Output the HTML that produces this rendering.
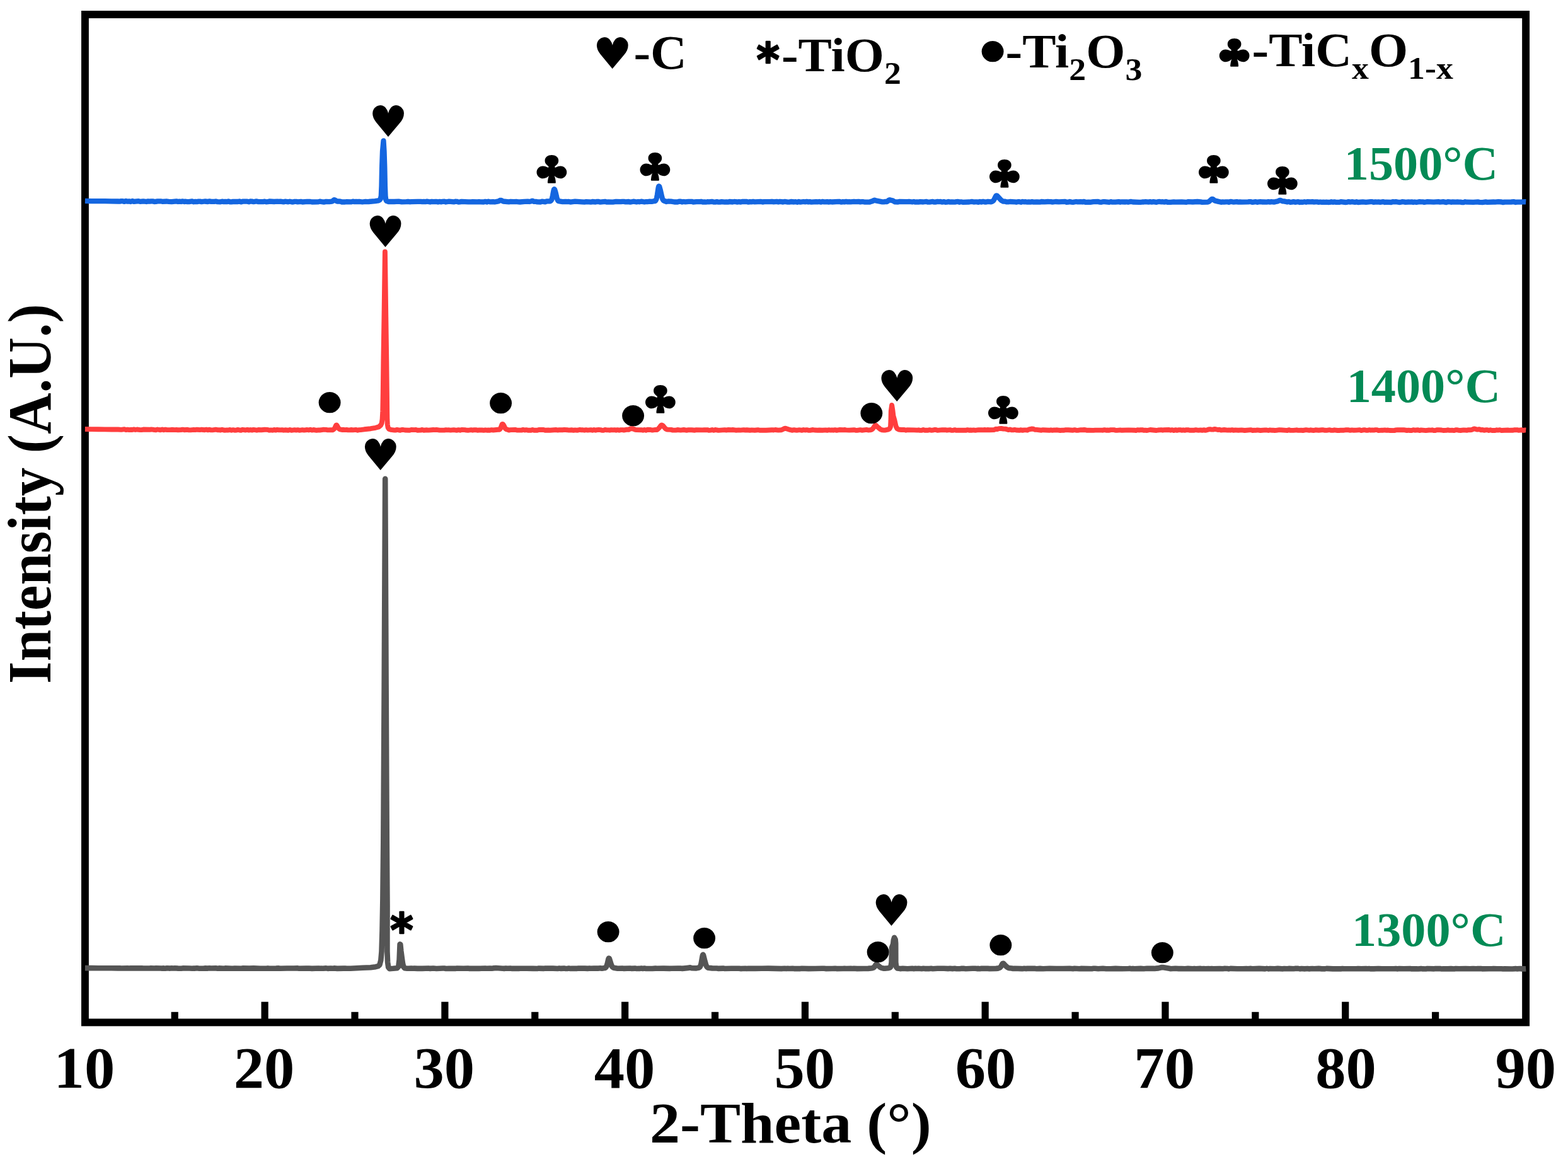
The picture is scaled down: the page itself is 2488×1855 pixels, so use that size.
<!DOCTYPE html>
<html lang="en">
<head>
<meta charset="utf-8">
<title>XRD patterns</title>
<style>
html,body{margin:0;padding:0;background:#fff;}
body{width:2488px;height:1855px;overflow:hidden;}
svg{display:block;}
.t{font-family:"Liberation Serif","DejaVu Serif",serif;font-weight:bold;fill:#000;}
.s{font-family:"DejaVu Sans","DejaVu Serif",sans-serif;font-weight:normal;fill:#000;}
.k{font-family:"NanumGothic","DejaVu Sans",sans-serif;font-weight:normal;fill:#000;}
.g{fill:#038a55;}
.b{font-weight:bold;}
</style>
</head>
<body>
<svg width="2488" height="1855" viewBox="0 0 2488 1855">
<rect x="0" y="0" width="2488" height="1855" fill="#ffffff"/>
<g id="axes" stroke="#000" fill="none">
<rect x="134.95" y="23.00" width="2286.15" height="1599.40" stroke-width="11.90"/>
<line x1="277.23" y1="1605.80" x2="277.23" y2="1622.40" stroke-width="11.2"/>
<line x1="420.12" y1="1589.70" x2="420.12" y2="1622.40" stroke-width="11.2"/>
<line x1="563.00" y1="1605.80" x2="563.00" y2="1622.40" stroke-width="11.2"/>
<line x1="705.89" y1="1589.70" x2="705.89" y2="1622.40" stroke-width="11.2"/>
<line x1="848.77" y1="1605.80" x2="848.77" y2="1622.40" stroke-width="11.2"/>
<line x1="991.66" y1="1589.70" x2="991.66" y2="1622.40" stroke-width="11.2"/>
<line x1="1134.54" y1="1605.80" x2="1134.54" y2="1622.40" stroke-width="11.2"/>
<line x1="1277.43" y1="1589.70" x2="1277.43" y2="1622.40" stroke-width="11.2"/>
<line x1="1420.31" y1="1605.80" x2="1420.31" y2="1622.40" stroke-width="11.2"/>
<line x1="1563.19" y1="1589.70" x2="1563.19" y2="1622.40" stroke-width="11.2"/>
<line x1="1706.08" y1="1605.80" x2="1706.08" y2="1622.40" stroke-width="11.2"/>
<line x1="1848.96" y1="1589.70" x2="1848.96" y2="1622.40" stroke-width="11.2"/>
<line x1="1991.85" y1="1605.80" x2="1991.85" y2="1622.40" stroke-width="11.2"/>
<line x1="2134.73" y1="1589.70" x2="2134.73" y2="1622.40" stroke-width="11.2"/>
<line x1="2277.62" y1="1605.80" x2="2277.62" y2="1622.40" stroke-width="11.2"/>
</g>
<g id="curves">
<polyline points="134.9,1536.1 145.4,1536.1 155.9,1536.2 166.4,1536.2 176.9,1536.3 187.4,1536.4 189.9,1536.2 192.4,1536.5 202.4,1536.3 204.9,1536.5 207.4,1536.2 217.4,1536.4 224.9,1536.3 227.4,1536.5 237.9,1536.4 239.9,1536.3 244.9,1536.5 247.4,1536.3 257.4,1536.6 259.9,1536.4 262.4,1536.7 264.9,1536.3 269.9,1536.6 272.4,1536.3 274.9,1536.5 277.4,1536.3 282.4,1536.6 287.4,1536.7 289.9,1536.4 300.4,1536.5 304.9,1536.7 307.4,1536.5 309.9,1536.6 312.4,1536.3 314.9,1536.6 322.4,1536.7 324.9,1536.4 329.9,1536.6 332.4,1536.3 334.9,1536.5 342.4,1536.3 344.9,1536.7 347.4,1536.4 354.9,1536.8 357.4,1536.4 367.9,1536.7 369.9,1536.8 372.4,1536.5 382.4,1536.8 384.9,1536.4 395.4,1536.6 402.4,1536.4 412.9,1536.8 422.4,1536.7 424.9,1536.4 427.4,1536.8 437.9,1536.6 442.4,1536.4 444.9,1536.7 455.4,1536.5 465.9,1536.5 472.4,1536.4 474.9,1536.8 485.4,1536.6 489.9,1536.5 494.9,1536.9 505.4,1536.5 512.5,1536.8 517.5,1536.4 520.0,1536.9 525.0,1536.5 527.5,1536.7 530.0,1536.4 535.0,1536.9 545.5,1536.6 547.5,1536.5 550.0,1536.8 556.0,1536.8 566.0,1536.3 575.0,1535.8 588.0,1535.2 596.0,1534.2 600.0,1533.2 602.5,1530.8 604.3,1523.8 605.5,1509.8 606.5,1476.8 607.4,1426.8 608.3,1336.8 609.7,1086.8 611.2,759.8 612.6,1086.8 613.8,1336.8 614.5,1436.8 614.4,1486.8 614.4,1509.8 615.1,1526.8 616.2,1534.8 618.0,1537.1 624.0,1536.8 630.0,1536.3 632.3,1533.8 633.6,1522.8 634.6,1498.3 635.3,1498.8 636.3,1508.8 637.6,1518.8 639.0,1528.8 640.3,1534.3 642.0,1536.3 646.0,1536.8 648.0,1536.8 652.5,1536.5 655.0,1536.8 657.5,1536.6 662.5,1536.9 667.5,1536.7 670.0,1536.9 680.0,1536.5 682.5,1536.9 687.5,1536.5 692.5,1537.0 703.0,1536.5 705.0,1536.5 707.5,1537.0 712.5,1536.7 715.0,1536.9 717.5,1536.7 722.5,1536.9 725.0,1536.6 735.5,1536.7 742.5,1536.5 745.0,1536.9 747.5,1536.7 755.0,1536.9 757.5,1536.7 760.0,1536.9 770.0,1536.5 772.5,1536.7 777.5,1536.5 780.0,1536.8 782.5,1536.4 787.0,1536.0 797.5,1536.7 800.0,1536.9 802.5,1536.5 805.0,1536.8 810.0,1536.6 812.5,1536.9 823.0,1536.9 825.0,1536.7 835.5,1536.8 846.0,1536.9 852.5,1537.0 855.0,1536.6 862.5,1536.9 865.0,1536.6 875.5,1536.6 877.5,1536.6 885.0,1537.0 887.5,1536.6 890.0,1536.9 895.0,1536.6 897.5,1537.0 900.0,1537.0 902.5,1536.6 905.0,1537.0 907.5,1536.7 915.0,1536.9 917.5,1536.6 928.0,1536.6 932.5,1536.9 935.0,1536.5 937.5,1536.8 942.5,1536.5 950.0,1536.6 952.5,1536.3 955.0,1536.7 959.5,1536.1 960.0,1536.0 961.0,1535.3 961.5,1534.7 962.0,1534.0 963.0,1531.7 964.0,1528.1 965.0,1523.6 965.5,1521.7 966.0,1520.6 966.5,1520.7 967.0,1521.6 970.0,1531.2 971.0,1533.3 971.5,1534.0 972.0,1534.6 973.0,1535.3 974.0,1535.7 980.0,1536.7 987.5,1536.5 990.0,1536.9 1000.0,1536.5 1002.5,1536.9 1007.5,1536.6 1010.0,1537.0 1015.0,1536.9 1017.5,1536.6 1020.0,1537.0 1022.5,1536.6 1025.0,1537.0 1035.0,1537.0 1040.0,1536.6 1042.5,1536.8 1053.0,1536.6 1062.5,1536.9 1065.0,1536.7 1075.5,1536.6 1080.0,1536.5 1082.5,1536.9 1092.5,1535.9 1094.0,1535.5 1095.0,1535.4 1097.5,1536.2 1105.0,1536.4 1109.0,1535.5 1110.0,1534.9 1110.5,1534.4 1111.0,1533.7 1111.5,1532.7 1112.0,1531.2 1112.5,1529.3 1113.5,1523.9 1114.5,1517.9 1115.0,1515.7 1115.5,1514.9 1116.0,1515.6 1116.5,1517.4 1118.5,1525.6 1120.0,1530.6 1121.0,1533.0 1121.5,1533.9 1122.0,1534.5 1123.0,1535.4 1124.0,1535.8 1130.0,1536.4 1137.5,1536.5 1140.0,1536.9 1147.5,1536.6 1150.0,1537.0 1160.5,1536.7 1171.0,1536.8 1172.5,1536.7 1175.0,1537.1 1182.5,1536.7 1185.0,1537.1 1187.5,1536.8 1198.0,1536.9 1208.5,1536.7 1219.0,1536.6 1229.5,1536.9 1240.0,1537.1 1245.0,1536.8 1247.5,1537.1 1250.0,1536.7 1252.5,1537.0 1257.5,1536.7 1260.0,1537.1 1270.0,1537.1 1272.5,1536.7 1283.0,1537.1 1293.5,1537.0 1304.0,1536.8 1307.5,1536.7 1310.0,1537.1 1320.5,1537.0 1325.0,1536.7 1327.5,1537.1 1337.5,1537.0 1340.0,1536.7 1342.5,1537.0 1350.0,1536.8 1352.5,1537.0 1355.0,1536.8 1360.0,1537.1 1370.5,1537.0 1377.5,1536.9 1384.0,1536.2 1385.5,1535.7 1386.5,1535.1 1387.5,1534.1 1389.5,1531.1 1390.0,1530.6 1390.5,1530.3 1391.0,1530.3 1391.5,1530.5 1396.5,1534.7 1398.5,1535.9 1402.5,1536.8 1404.0,1536.8 1409.0,1536.3 1412.0,1535.4 1413.5,1533.9 1414.6,1526.9 1414.9,1504.0 1417.2,1498.0 1417.8,1492.0 1419.1,1487.8 1420.7,1491.0 1421.2,1497.0 1421.3,1527.0 1422.2,1534.6 1424.0,1536.6 1428.0,1537.1 1430.0,1537.1 1432.5,1536.7 1440.0,1537.2 1447.5,1536.8 1450.0,1537.2 1452.5,1536.8 1455.0,1537.0 1457.5,1536.8 1462.5,1537.2 1465.0,1536.8 1467.5,1537.1 1470.0,1537.0 1475.0,1537.1 1477.5,1536.8 1480.0,1537.2 1487.5,1536.7 1498.0,1536.8 1505.0,1537.1 1507.5,1536.7 1510.0,1537.1 1512.5,1537.1 1515.0,1536.8 1517.5,1537.2 1522.5,1537.2 1525.0,1536.9 1530.0,1536.9 1532.5,1537.2 1543.0,1536.8 1547.5,1536.8 1550.0,1537.1 1552.5,1536.9 1555.0,1537.2 1557.5,1536.8 1567.5,1536.9 1570.0,1537.1 1580.5,1536.9 1583.5,1536.6 1585.5,1536.0 1586.5,1535.5 1587.5,1534.6 1588.5,1533.2 1590.0,1530.4 1590.5,1529.6 1591.0,1529.0 1591.5,1528.7 1592.0,1528.8 1592.5,1529.1 1596.0,1532.9 1598.5,1535.0 1600.0,1535.8 1602.0,1536.3 1605.0,1536.5 1607.5,1537.0 1610.0,1536.7 1620.5,1537.1 1622.5,1537.2 1625.0,1536.8 1627.5,1537.1 1630.0,1536.9 1640.5,1536.8 1642.5,1536.9 1645.0,1537.2 1650.0,1536.9 1655.0,1537.3 1665.5,1536.8 1676.0,1537.0 1686.5,1537.0 1697.0,1536.8 1702.5,1537.3 1705.0,1536.8 1712.5,1537.2 1715.0,1536.9 1725.5,1537.1 1732.5,1537.2 1735.0,1536.8 1737.5,1536.8 1742.5,1537.2 1750.0,1536.8 1755.0,1537.3 1762.5,1537.3 1770.0,1536.9 1780.5,1537.2 1791.0,1537.0 1792.5,1536.8 1795.0,1537.2 1797.5,1536.9 1800.0,1537.3 1810.0,1536.9 1815.0,1537.2 1820.0,1536.8 1830.5,1536.9 1832.5,1537.0 1835.0,1536.6 1838.0,1536.4 1843.5,1535.0 1845.0,1535.0 1855.5,1536.8 1857.5,1537.2 1865.0,1536.8 1870.0,1537.1 1875.0,1537.0 1880.0,1537.3 1885.0,1536.9 1892.5,1537.2 1895.0,1536.9 1897.5,1537.2 1905.0,1536.9 1907.5,1537.3 1910.0,1537.0 1912.5,1537.3 1917.5,1537.0 1920.0,1537.2 1922.5,1537.0 1925.0,1537.3 1935.5,1537.1 1940.0,1537.3 1942.5,1536.9 1947.5,1537.0 1950.0,1537.4 1952.5,1536.9 1963.0,1537.3 1972.5,1537.3 1977.5,1537.0 1980.0,1537.3 1985.0,1536.9 1987.5,1537.2 1998.0,1536.9 2007.5,1537.4 2010.0,1536.9 2012.5,1537.4 2015.0,1537.0 2022.5,1537.3 2027.5,1536.9 2035.0,1537.4 2037.5,1537.0 2042.5,1537.3 2045.0,1536.9 2052.4,1537.3 2054.9,1536.9 2059.9,1536.9 2062.4,1537.4 2064.9,1537.0 2069.9,1537.4 2074.9,1537.0 2077.4,1537.4 2082.4,1537.0 2084.9,1537.3 2092.4,1536.9 2097.4,1537.4 2102.4,1537.4 2104.9,1536.9 2114.9,1537.4 2124.9,1537.2 2127.4,1537.4 2129.9,1537.0 2132.4,1537.3 2142.9,1537.2 2152.4,1537.3 2154.9,1537.0 2159.9,1537.3 2167.4,1537.0 2169.9,1537.2 2172.4,1537.1 2174.9,1537.4 2179.9,1537.4 2187.4,1537.0 2192.4,1537.3 2202.9,1537.3 2212.4,1537.3 2214.9,1537.0 2217.4,1537.4 2219.9,1537.1 2227.4,1537.3 2237.4,1537.0 2239.9,1537.4 2247.4,1537.2 2249.9,1537.5 2254.9,1537.1 2257.4,1537.4 2262.4,1537.5 2264.9,1537.0 2274.9,1537.4 2277.4,1537.0 2284.9,1537.1 2287.4,1537.5 2289.9,1537.3 2292.4,1537.4 2294.9,1537.2 2297.4,1537.4 2302.4,1537.1 2307.4,1537.5 2309.9,1537.0 2314.9,1537.3 2325.4,1537.1 2332.4,1537.3 2337.4,1537.0 2342.4,1537.3 2344.9,1537.1 2349.9,1537.1 2352.4,1537.4 2362.9,1537.2 2367.4,1537.3 2369.9,1537.0 2374.9,1537.3 2382.4,1537.2 2384.9,1537.5 2387.4,1537.2 2397.9,1537.5 2399.9,1537.5 2404.9,1537.1 2407.4,1537.4 2412.4,1537.0 2414.9,1537.5 2417.4,1537.2 2419.9,1537.4 2421.2,1537.3" fill="none" stroke="#555555" stroke-width="8.60" stroke-linejoin="round" stroke-linecap="butt"/>
<polyline points="134.9,681.0 145.4,681.1 155.9,681.2 166.4,681.4 176.9,681.5 187.4,681.5 192.4,681.9 197.4,681.2 199.9,682.1 202.4,681.6 204.9,682.1 207.4,681.8 209.9,682.0 212.4,681.4 214.9,682.0 217.4,681.5 222.4,682.1 224.9,682.1 227.4,681.5 237.4,681.8 239.9,681.5 242.4,681.6 244.9,682.1 247.4,682.3 249.9,681.5 252.4,682.0 254.9,682.2 257.4,681.5 259.9,682.3 262.4,681.6 264.9,682.1 269.9,682.1 272.4,681.8 277.4,682.1 279.9,682.0 282.4,682.2 287.4,682.0 289.9,681.6 292.4,682.2 297.4,681.8 299.9,682.4 302.4,682.4 307.4,681.8 309.9,682.1 312.4,681.7 317.4,682.1 319.9,681.7 324.9,682.2 327.4,681.7 329.9,682.3 332.4,681.7 334.9,682.4 337.4,682.4 342.4,681.7 344.9,682.2 347.4,682.1 349.9,682.6 352.4,681.8 354.9,682.5 357.4,682.7 359.9,682.4 362.4,682.5 364.9,681.9 367.4,682.7 369.9,682.2 372.4,682.7 374.9,682.6 377.4,681.9 379.9,682.5 382.4,682.7 384.9,681.8 389.9,682.5 392.4,681.9 394.9,682.6 397.4,682.0 399.9,682.6 402.4,681.9 407.4,682.7 409.9,682.0 414.9,682.3 419.9,681.8 424.9,681.9 427.4,682.7 429.9,682.4 432.4,682.7 434.9,681.9 437.4,682.6 439.9,681.9 442.4,682.3 444.9,682.4 447.4,682.1 449.9,682.7 452.4,682.3 457.4,682.7 459.9,681.9 462.4,682.8 467.4,682.2 469.9,682.6 472.4,682.1 474.9,682.8 479.9,682.2 482.4,682.6 487.4,682.0 489.9,682.5 492.4,681.8 494.9,682.6 497.4,682.0 502.4,682.8 504.9,682.4 507.4,682.5 512.5,681.8 517.5,681.9 520.0,682.4 525.0,682.2 527.5,682.4 529.0,681.7 530.5,680.3 531.0,679.6 532.0,677.6 533.0,675.3 533.5,674.6 534.0,674.5 534.5,674.9 535.5,676.6 537.0,679.3 538.0,680.5 538.5,680.9 539.5,681.3 542.5,682.0 545.0,681.8 547.5,682.1 550.0,682.0 552.5,682.4 555.0,682.4 557.5,682.0 560.0,682.4 565.0,681.9 567.5,682.8 570.0,682.1 572.0,682.1 578.0,681.3 588.0,680.2 596.0,678.8 601.0,677.4 604.0,674.9 605.7,671.4 606.6,665.4 607.3,652.4 607.8,622.4 608.4,572.4 609.5,502.4 610.9,399.5 612.3,502.5 613.3,572.5 613.9,622.5 614.2,652.5 614.4,665.5 614.8,673.5 615.6,678.5 617.0,680.7 620.0,681.8 626.0,682.6 627.5,682.6 630.0,681.9 635.0,682.8 637.5,682.0 640.0,682.0 642.5,682.5 650.0,682.7 652.5,682.0 657.5,682.1 660.0,681.9 662.5,682.7 667.5,682.6 670.0,681.9 672.5,682.7 677.5,682.3 680.0,682.6 687.5,682.0 690.0,682.1 692.5,681.9 697.5,682.6 705.0,682.6 707.5,682.1 710.0,682.4 712.5,682.3 715.0,682.6 720.0,682.1 725.0,682.8 727.5,682.1 730.0,682.7 732.5,681.9 737.5,682.1 740.0,682.6 742.5,682.8 747.5,682.2 750.0,682.7 752.5,682.2 755.0,682.1 757.5,682.8 760.0,682.5 765.0,682.5 767.5,682.8 770.0,682.3 772.5,682.7 775.0,682.5 777.5,682.7 780.0,682.2 782.5,682.5 790.0,681.8 792.0,681.8 792.5,681.7 793.0,681.3 793.5,680.8 794.0,680.0 794.5,678.9 796.5,673.6 797.0,672.9 797.5,672.9 798.0,673.1 798.5,673.7 799.5,675.3 801.0,678.5 801.5,679.4 802.0,680.1 803.0,680.9 804.0,681.4 805.0,681.6 807.5,682.6 810.0,682.1 817.5,681.9 820.0,682.5 827.5,682.6 830.0,681.9 832.5,682.5 835.0,682.2 837.5,682.7 842.5,682.8 845.0,681.9 847.5,682.7 852.5,682.8 855.0,682.0 862.5,681.9 865.0,682.7 870.0,682.5 872.5,682.7 882.5,682.0 885.0,682.6 887.5,682.1 892.5,682.3 895.0,681.9 900.0,682.2 902.5,682.6 907.5,682.2 910.0,682.9 912.5,682.4 915.0,682.7 917.5,682.5 920.0,681.9 922.5,682.3 925.0,682.3 927.5,682.7 930.0,682.2 932.5,682.6 937.5,682.1 940.0,682.8 942.5,682.0 945.0,682.7 947.5,682.1 950.0,681.9 952.5,682.1 955.0,682.7 957.5,682.9 960.0,681.9 962.5,682.4 965.0,682.4 967.5,682.7 970.0,682.1 972.5,682.4 975.0,682.2 977.5,682.7 980.0,682.1 982.5,682.8 985.0,682.1 987.5,682.1 990.0,682.5 995.0,681.7 997.5,681.8 1000.0,680.3 1001.5,680.1 1004.0,680.3 1008.0,681.8 1010.0,682.1 1017.5,682.2 1020.0,682.7 1022.5,681.9 1025.0,682.7 1027.5,681.8 1032.5,682.0 1035.0,682.6 1040.0,681.9 1042.0,682.0 1042.5,682.0 1044.0,680.9 1046.0,678.8 1048.5,675.5 1049.0,675.0 1049.5,674.7 1050.0,674.5 1050.5,674.6 1051.0,674.8 1052.0,675.6 1055.5,679.8 1056.5,680.6 1057.5,681.2 1059.0,681.6 1065.0,681.9 1067.5,682.6 1072.5,682.6 1075.0,682.0 1080.0,682.6 1085.0,682.0 1090.0,682.8 1092.5,682.1 1097.5,682.2 1102.5,682.7 1105.0,682.1 1115.0,682.4 1117.5,682.1 1120.0,682.2 1122.5,682.1 1125.0,682.9 1127.5,682.6 1130.0,682.0 1132.5,682.9 1135.0,682.0 1137.5,682.3 1140.0,682.9 1150.0,682.1 1152.5,682.6 1155.0,682.0 1160.0,682.3 1162.5,682.0 1167.5,682.7 1172.5,682.4 1175.0,682.6 1180.0,682.1 1182.5,682.5 1185.0,682.3 1190.0,682.8 1192.5,682.4 1197.5,682.7 1202.5,682.2 1205.0,682.7 1215.5,682.7 1225.0,682.2 1227.5,682.5 1230.0,682.0 1235.0,682.6 1240.0,682.2 1242.0,681.3 1244.5,680.1 1245.5,679.8 1246.5,679.8 1249.5,680.8 1252.0,681.6 1257.5,682.8 1260.0,682.1 1262.5,682.6 1265.0,682.7 1267.5,682.3 1270.0,682.4 1272.5,682.9 1275.0,682.0 1277.5,682.5 1280.0,682.1 1282.5,682.7 1285.0,682.9 1290.0,682.0 1292.5,682.5 1297.5,682.7 1300.0,682.5 1305.0,682.8 1310.0,682.4 1312.5,682.9 1315.0,682.2 1317.5,682.6 1320.0,682.3 1322.5,682.7 1325.0,682.1 1327.5,682.9 1330.0,682.3 1332.5,682.0 1337.5,682.3 1340.0,682.0 1342.5,682.4 1347.5,682.6 1355.0,682.2 1357.5,682.7 1360.0,682.9 1365.0,682.1 1367.5,682.7 1375.0,681.9 1377.5,682.5 1380.5,682.4 1382.5,681.9 1383.5,681.4 1384.5,680.6 1386.0,678.8 1388.0,675.7 1388.5,675.2 1389.0,674.8 1389.5,674.8 1390.0,674.9 1392.5,677.6 1395.0,679.5 1396.5,680.9 1397.5,681.6 1399.5,682.3 1402.5,682.6 1404.0,682.6 1409.0,681.6 1411.5,680.4 1413.0,677.3 1413.5,667.3 1413.8,652.3 1415.1,643.0 1416.3,650.3 1417.5,660.2 1419.5,667.2 1421.5,676.2 1423.5,680.3 1426.0,681.5 1430.0,682.0 1435.0,682.0 1437.5,682.7 1440.0,682.2 1450.5,682.4 1455.0,682.6 1457.5,682.3 1460.0,682.9 1462.5,682.8 1465.0,682.0 1467.5,682.8 1472.5,682.8 1475.0,682.1 1477.5,682.8 1480.0,682.6 1482.5,682.0 1485.0,682.0 1487.5,682.9 1495.0,682.1 1500.0,682.2 1502.5,682.7 1507.5,682.1 1510.0,682.9 1512.5,682.8 1515.0,682.1 1517.5,682.9 1520.0,682.6 1530.5,682.8 1532.5,682.8 1535.0,682.2 1537.5,682.7 1540.0,682.5 1542.5,682.7 1545.0,682.4 1547.5,682.8 1552.5,682.2 1557.5,682.1 1560.0,682.4 1562.5,682.0 1565.0,682.3 1567.5,682.0 1570.0,682.3 1577.5,682.0 1580.0,680.7 1582.5,681.0 1585.0,680.1 1589.0,680.0 1592.5,680.6 1595.0,680.6 1597.5,681.2 1600.0,682.1 1602.5,681.5 1605.0,682.3 1607.5,682.4 1610.0,681.9 1612.5,682.5 1617.5,682.8 1620.0,682.2 1622.5,682.9 1625.0,682.4 1627.5,682.4 1630.0,682.7 1632.5,681.4 1635.0,681.0 1636.0,680.6 1637.0,680.5 1640.0,680.8 1642.5,681.8 1645.0,681.9 1652.5,682.7 1655.0,682.2 1665.0,682.8 1667.5,682.3 1670.0,682.8 1672.5,682.4 1675.0,682.5 1677.5,682.3 1682.5,683.0 1685.0,682.7 1687.5,682.8 1690.0,682.3 1695.0,682.3 1702.5,682.8 1705.0,682.1 1707.5,682.7 1710.0,682.9 1715.0,682.1 1717.5,682.3 1720.0,682.0 1722.5,682.2 1725.0,682.9 1727.5,682.6 1735.0,682.9 1737.5,682.6 1748.0,682.6 1750.0,682.7 1752.5,682.2 1755.0,682.7 1757.5,682.5 1760.0,682.8 1762.5,682.1 1767.5,682.1 1770.0,682.8 1772.5,682.9 1777.5,682.4 1780.0,682.8 1790.5,682.4 1801.0,682.8 1802.5,683.0 1805.0,682.1 1807.5,682.6 1810.0,682.1 1812.5,682.2 1815.0,682.8 1817.5,682.6 1820.0,683.0 1825.0,682.0 1835.0,683.0 1837.5,682.5 1842.5,682.1 1845.0,682.7 1847.5,682.2 1855.0,682.0 1857.5,682.7 1860.0,682.2 1862.5,683.0 1865.0,682.1 1867.5,682.9 1870.0,682.2 1872.5,682.1 1875.0,682.8 1877.5,682.3 1880.0,682.8 1882.5,682.2 1885.0,682.1 1887.5,682.8 1895.0,682.7 1897.5,682.1 1900.0,682.6 1902.5,682.7 1905.0,682.4 1907.5,682.9 1910.0,682.2 1912.5,682.8 1915.0,682.4 1917.5,681.5 1920.0,681.2 1922.5,681.6 1925.0,681.6 1927.5,680.9 1932.5,682.0 1935.0,681.7 1937.5,682.6 1942.5,682.0 1947.5,682.6 1950.0,682.4 1952.5,682.7 1955.0,682.2 1957.5,682.8 1960.0,682.4 1965.0,682.7 1970.0,682.4 1975.0,683.0 1985.0,682.1 1987.5,683.0 1990.0,682.8 1992.5,682.9 1995.0,682.4 2000.0,683.0 2007.5,682.4 2010.0,682.5 2012.5,683.0 2015.0,682.4 2017.5,682.7 2020.0,682.7 2022.5,683.0 2025.0,682.9 2030.0,682.1 2040.5,682.9 2042.5,683.0 2045.0,682.1 2047.5,682.9 2052.4,682.9 2057.4,682.3 2059.9,682.9 2064.9,682.8 2067.4,683.0 2072.4,682.2 2077.4,682.9 2079.9,682.3 2082.4,682.8 2084.9,683.0 2087.4,682.3 2092.4,682.8 2097.4,682.3 2099.9,682.3 2102.4,682.8 2104.9,682.9 2109.9,682.2 2112.4,682.9 2114.9,682.9 2117.4,682.3 2122.4,683.0 2124.9,683.0 2127.4,682.6 2132.4,682.7 2134.9,682.3 2139.9,682.3 2142.4,682.8 2144.9,682.4 2147.4,682.7 2152.4,682.6 2157.4,682.1 2159.9,683.1 2162.4,682.5 2164.9,682.2 2167.4,682.7 2169.9,682.9 2172.4,682.2 2174.9,682.7 2177.4,682.4 2179.9,682.6 2182.4,682.1 2184.9,682.1 2187.4,683.1 2192.4,682.6 2194.9,682.7 2197.4,682.4 2199.9,682.9 2202.4,682.5 2204.9,683.0 2212.4,683.1 2214.9,682.4 2217.4,682.1 2227.4,682.2 2232.4,683.0 2234.9,682.6 2237.4,683.0 2239.9,683.0 2242.4,682.2 2244.9,682.7 2249.9,682.2 2252.4,683.1 2254.9,682.4 2262.4,683.1 2267.4,682.5 2269.9,682.6 2272.4,682.3 2274.9,683.1 2277.4,683.1 2279.9,682.3 2282.4,682.1 2287.4,682.5 2289.9,683.0 2294.9,682.9 2297.4,682.2 2299.9,682.9 2304.9,682.8 2307.4,683.1 2309.9,682.2 2312.4,682.2 2314.9,682.9 2317.4,683.0 2322.4,682.4 2327.4,682.8 2329.9,682.2 2332.4,682.3 2334.9,682.0 2336.4,681.5 2338.4,680.5 2338.9,680.4 2339.4,680.4 2340.9,680.8 2343.4,681.6 2344.9,681.6 2346.9,681.2 2347.4,681.2 2349.9,682.3 2352.4,682.0 2354.9,682.8 2357.4,682.3 2359.9,682.1 2362.4,683.0 2364.9,682.3 2367.4,683.0 2372.4,683.0 2374.9,682.3 2377.4,682.6 2379.9,682.2 2382.4,683.0 2392.4,682.5 2394.9,682.9 2397.4,682.6 2399.9,682.8 2402.4,682.3 2407.4,682.2 2409.9,682.8 2414.9,682.3 2417.4,683.0 2419.9,682.4 2421.2,682.5" fill="none" stroke="#ff3e3e" stroke-width="7.90" stroke-linejoin="round" stroke-linecap="butt"/>
<polyline points="134.9,318.9 145.4,319.1 155.9,319.2 166.4,319.2 176.9,319.3 187.4,319.5 189.9,319.6 192.4,319.1 194.9,319.2 197.4,319.9 199.9,319.0 202.4,319.7 204.9,319.3 207.4,320.0 209.9,319.0 212.4,319.9 219.9,319.1 222.4,319.9 227.4,319.3 232.4,320.0 234.9,319.4 237.4,319.7 239.9,319.3 242.4,319.4 244.9,320.0 247.4,319.9 249.9,319.4 254.9,319.3 257.4,319.8 264.9,319.5 267.4,319.9 272.4,320.1 279.9,319.4 282.4,320.0 284.9,319.7 287.4,320.0 289.9,319.4 292.4,320.1 294.9,319.7 297.4,320.2 299.9,320.2 304.9,319.4 307.4,320.3 309.9,319.8 312.4,320.2 314.9,319.6 317.4,319.6 319.9,320.2 324.9,319.5 329.9,320.0 332.4,319.4 334.9,319.9 339.9,319.9 342.4,319.5 344.9,320.1 349.9,320.3 352.4,319.7 354.9,320.1 357.4,319.8 359.9,320.2 362.4,319.5 364.9,320.3 367.4,320.4 369.9,319.9 377.4,320.0 379.9,319.5 382.4,320.4 384.9,319.7 392.4,319.7 394.9,320.3 397.4,319.5 399.9,319.6 402.4,320.2 404.9,319.7 407.4,319.5 409.9,320.1 417.4,320.2 419.9,319.6 422.4,320.4 424.9,320.2 427.4,319.5 434.9,320.0 439.9,319.6 442.4,319.9 444.9,319.6 449.9,320.4 452.4,319.7 457.4,320.3 459.9,319.7 462.4,320.3 464.9,320.5 467.4,319.9 469.9,319.9 472.4,320.4 477.4,319.9 479.9,320.5 487.4,319.8 492.4,320.0 494.9,320.5 504.9,320.4 507.4,319.6 512.5,320.5 515.0,320.5 517.5,319.8 522.5,320.1 526.5,319.6 527.5,319.2 530.0,317.1 530.5,317.1 531.0,317.2 532.0,317.7 534.0,319.1 535.0,319.6 537.5,319.4 540.0,319.6 542.5,320.5 545.0,320.3 547.5,320.5 550.0,320.2 557.5,320.4 560.0,319.6 562.5,320.2 565.0,319.8 567.5,320.2 570.0,319.8 575.0,320.5 580.0,319.8 582.5,320.1 585.0,320.0 585.0,320.0 595.0,319.2 600.0,318.4 602.5,317.2 603.8,315.5 604.8,311.0 605.5,295.0 606.1,265.0 607.0,240.0 608.5,223.5 609.5,240.0 610.3,265.0 610.9,295.0 611.5,311.0 612.3,317.0 613.5,319.0 616.0,320.0 625.5,320.0 632.5,319.7 637.5,320.4 645.0,320.2 647.5,319.8 650.0,320.3 652.5,320.1 663.0,319.9 667.5,319.8 670.0,320.1 672.5,320.0 675.0,320.2 677.5,319.6 682.5,320.5 685.0,319.9 687.5,320.2 692.5,319.9 695.0,320.6 697.5,319.9 700.0,320.4 702.5,319.8 705.0,319.7 707.5,320.5 712.5,319.7 720.0,320.4 722.5,319.7 725.0,319.8 727.5,320.6 730.0,320.4 732.5,319.8 743.0,320.3 747.5,320.4 750.0,320.1 757.5,320.4 760.0,320.1 762.5,320.4 767.5,320.5 770.0,319.8 772.5,320.5 775.0,319.6 777.5,320.4 782.5,320.1 785.0,320.5 789.5,319.7 791.0,319.3 793.5,317.9 794.0,317.8 794.5,317.8 796.0,318.3 798.5,319.5 807.5,320.3 810.0,319.9 815.0,320.2 820.0,320.0 822.5,320.4 825.0,320.5 832.5,319.8 837.5,319.7 840.0,320.0 842.5,319.5 844.0,318.9 845.0,318.7 847.5,319.9 850.0,319.8 852.5,320.4 857.5,320.5 860.0,319.7 865.0,320.4 867.5,319.4 870.0,319.3 872.5,319.4 873.5,319.0 874.0,318.7 874.5,318.1 875.0,317.3 875.5,316.3 876.0,314.7 877.0,310.3 878.5,302.3 879.0,300.6 879.5,300.1 880.0,300.6 880.5,301.8 881.5,305.2 883.5,313.7 884.5,316.8 885.0,317.9 885.5,318.5 886.0,318.9 886.5,319.2 892.5,320.1 897.5,319.9 900.0,320.2 902.5,319.9 905.0,320.6 912.5,319.7 923.0,320.3 927.5,320.6 930.0,320.2 935.0,320.3 937.5,320.7 940.0,320.0 945.0,320.5 947.5,319.9 950.0,320.0 952.5,320.7 960.0,319.8 962.5,320.6 965.0,320.4 972.5,320.6 977.5,319.8 985.0,320.2 987.5,319.9 990.0,319.9 992.5,320.3 997.5,320.0 1000.0,320.7 1005.0,319.7 1010.0,320.5 1012.5,320.0 1015.0,320.3 1017.5,319.7 1022.5,320.5 1025.0,320.2 1027.5,320.2 1030.0,319.7 1035.0,319.8 1037.5,319.2 1039.0,319.1 1039.5,318.9 1040.0,318.6 1040.5,318.0 1041.0,317.1 1041.5,315.8 1042.0,314.0 1043.0,308.7 1044.5,298.7 1045.0,296.4 1045.5,295.4 1046.0,295.7 1046.5,296.9 1048.0,302.4 1050.0,311.4 1051.0,314.9 1051.5,316.2 1052.0,317.1 1052.5,317.8 1053.0,318.3 1054.0,318.8 1057.5,320.0 1060.0,319.5 1065.0,319.7 1070.0,320.5 1072.5,320.3 1075.0,320.5 1077.5,319.7 1080.0,319.7 1082.5,320.5 1085.0,320.0 1087.5,320.4 1092.5,319.9 1097.5,319.8 1100.0,320.6 1105.0,320.1 1110.0,320.1 1112.5,319.8 1115.0,320.6 1117.5,320.3 1120.0,320.7 1122.5,320.2 1125.0,320.4 1130.0,319.8 1132.5,320.7 1135.0,320.6 1137.5,320.1 1140.0,320.7 1142.5,320.6 1145.0,320.1 1150.0,320.7 1152.5,320.3 1155.0,320.7 1157.5,320.0 1162.5,320.5 1165.0,320.0 1167.5,320.1 1170.0,320.6 1172.5,320.2 1175.0,320.6 1177.5,320.0 1185.0,320.0 1187.5,320.7 1190.0,320.1 1192.5,320.3 1195.0,319.9 1197.5,320.3 1207.5,319.9 1210.0,320.6 1212.5,320.1 1223.0,320.0 1225.0,319.8 1227.5,320.4 1232.5,319.9 1235.0,320.5 1237.5,319.9 1240.0,320.1 1242.5,320.6 1245.0,319.9 1250.0,320.6 1252.5,320.6 1255.0,320.0 1260.0,320.5 1262.5,320.2 1265.0,320.8 1267.5,320.0 1270.0,320.7 1275.0,320.0 1277.5,320.3 1280.0,319.9 1282.5,320.5 1285.0,320.1 1287.5,320.7 1295.0,320.1 1297.5,320.4 1300.0,320.0 1302.5,320.7 1305.0,319.9 1307.5,320.3 1310.0,320.4 1312.5,320.1 1315.0,320.6 1317.5,320.2 1320.0,320.5 1330.5,319.9 1332.5,320.0 1335.0,320.7 1337.5,320.1 1340.0,320.5 1342.5,319.9 1345.0,320.4 1347.5,320.2 1350.0,320.3 1355.0,319.9 1357.5,320.1 1362.5,319.9 1365.0,320.5 1367.5,320.1 1370.0,320.2 1372.5,320.7 1380.0,320.5 1382.5,319.6 1384.5,319.1 1387.0,317.7 1387.5,317.6 1388.5,317.8 1390.0,318.4 1400.0,320.3 1402.5,320.4 1405.0,319.9 1407.0,320.1 1407.5,320.0 1409.0,318.9 1410.0,317.9 1411.0,317.3 1411.5,317.2 1412.0,317.2 1414.5,317.9 1416.0,318.2 1417.5,318.8 1419.5,320.2 1420.0,320.4 1425.0,320.5 1427.5,319.8 1438.0,320.1 1440.0,320.2 1442.5,319.9 1447.5,320.5 1450.0,320.0 1452.5,320.7 1455.0,320.4 1457.5,320.6 1460.0,320.1 1465.0,320.5 1470.0,319.9 1472.5,320.7 1475.0,320.6 1480.0,319.9 1482.5,320.7 1485.0,320.5 1487.5,319.9 1490.0,320.1 1492.5,320.0 1495.0,320.7 1497.5,320.1 1500.0,320.8 1502.5,320.6 1505.0,320.0 1507.5,320.6 1510.0,320.3 1515.0,320.7 1517.5,320.1 1520.0,320.0 1522.5,320.8 1525.0,320.3 1527.5,320.8 1538.0,320.5 1542.5,319.9 1545.0,320.6 1547.5,320.3 1550.0,320.4 1552.5,320.8 1555.0,320.0 1557.5,320.6 1560.0,319.8 1562.5,320.5 1565.0,320.5 1567.5,319.9 1572.5,320.4 1574.0,319.9 1575.5,319.0 1576.5,318.0 1577.5,316.4 1580.0,311.3 1580.5,310.7 1581.0,310.3 1581.5,310.3 1582.0,310.6 1582.5,311.1 1588.5,317.6 1589.5,318.4 1591.0,319.2 1592.5,319.7 1595.0,319.7 1597.5,320.4 1600.0,320.4 1602.5,320.0 1610.0,320.3 1612.5,320.8 1615.0,320.2 1617.5,320.2 1620.0,320.8 1622.5,320.0 1625.0,320.4 1627.5,320.2 1630.0,320.7 1632.5,320.4 1635.0,320.7 1637.5,320.1 1640.0,320.6 1645.0,320.4 1650.0,320.7 1652.5,320.0 1657.5,320.3 1662.5,320.0 1665.0,320.2 1667.5,320.1 1670.0,320.6 1675.0,320.0 1680.0,320.4 1690.0,319.9 1692.5,320.9 1695.0,320.7 1697.5,320.0 1700.0,320.6 1702.5,320.9 1707.5,320.0 1710.0,320.4 1715.0,320.1 1717.5,320.5 1720.0,319.9 1722.5,320.9 1727.5,320.6 1730.0,320.9 1735.0,320.2 1742.5,320.0 1745.0,320.7 1747.5,320.8 1750.0,320.2 1752.5,320.1 1760.0,320.9 1762.5,320.1 1765.0,320.7 1770.0,320.7 1775.0,320.1 1777.5,320.8 1780.0,320.3 1785.0,320.5 1787.5,320.3 1790.0,320.8 1792.5,320.2 1795.0,320.0 1797.5,320.5 1808.0,320.9 1810.0,320.9 1812.5,320.5 1815.0,320.5 1817.5,320.1 1822.5,320.6 1825.0,320.1 1827.5,320.7 1830.0,320.1 1835.0,320.9 1837.5,320.1 1840.0,320.0 1842.5,320.4 1845.0,320.2 1847.5,320.7 1850.0,320.0 1852.5,320.8 1857.5,320.8 1862.5,320.3 1865.0,320.6 1875.0,320.4 1882.5,320.9 1885.0,320.1 1892.5,320.5 1900.0,320.0 1905.0,320.4 1907.5,320.9 1916.0,320.6 1917.5,320.3 1918.5,319.7 1922.0,316.5 1923.0,315.9 1923.5,315.8 1924.0,315.9 1925.0,316.3 1926.5,317.7 1927.5,318.4 1932.5,319.6 1937.5,320.8 1940.0,320.4 1942.5,320.6 1945.0,320.3 1947.5,320.3 1950.0,320.9 1952.5,320.0 1955.0,320.2 1957.5,320.7 1962.5,320.1 1965.0,320.7 1967.5,320.4 1970.0,320.6 1980.5,320.4 1982.5,320.1 1985.0,320.2 1987.5,320.9 1992.5,320.1 1995.0,320.9 1997.5,320.3 2000.0,320.1 2002.5,320.5 2005.0,320.3 2010.0,320.6 2012.5,320.2 2015.0,320.6 2017.5,320.1 2020.0,320.5 2022.5,320.5 2025.0,319.8 2027.5,319.4 2030.0,318.0 2031.0,317.8 2032.0,317.9 2035.0,319.3 2037.5,319.4 2042.5,320.5 2045.0,320.0 2047.5,321.0 2049.9,320.7 2052.4,320.1 2054.9,320.8 2059.9,320.2 2062.4,321.0 2064.9,320.6 2067.4,320.8 2069.9,320.2 2072.4,320.8 2074.9,320.1 2079.9,320.4 2082.4,320.1 2084.9,320.6 2087.4,320.3 2089.9,320.4 2092.4,320.8 2094.9,320.5 2097.4,320.9 2099.9,320.7 2102.4,320.9 2104.9,320.6 2107.4,321.0 2109.9,320.9 2112.4,320.2 2114.9,320.8 2117.4,320.4 2119.9,320.8 2124.9,320.9 2127.4,320.2 2134.9,321.0 2137.4,320.8 2139.9,320.1 2142.4,320.7 2144.9,320.2 2149.9,320.9 2152.4,320.2 2154.9,321.0 2162.4,320.3 2167.4,320.9 2174.9,320.1 2177.4,320.2 2179.9,320.9 2182.4,320.3 2184.9,320.6 2187.4,320.4 2189.9,320.8 2194.9,320.2 2197.4,321.0 2199.9,320.6 2207.4,321.0 2209.9,320.1 2212.4,320.4 2214.9,320.2 2219.9,321.0 2222.4,320.9 2224.9,320.1 2227.4,320.3 2229.9,320.9 2234.9,320.5 2237.4,320.6 2239.9,320.3 2242.4,321.0 2244.9,320.5 2247.4,321.0 2252.4,320.2 2254.9,320.4 2257.4,320.3 2259.9,321.0 2264.9,320.2 2274.9,320.7 2282.4,320.1 2284.9,320.7 2289.9,320.1 2294.9,321.1 2297.4,320.2 2299.9,320.3 2302.4,320.8 2304.9,320.4 2309.9,320.6 2312.4,320.4 2314.9,320.7 2317.4,320.7 2319.9,321.1 2322.4,321.1 2324.9,320.2 2327.4,320.7 2337.9,320.8 2344.9,320.4 2347.4,320.9 2352.4,321.1 2357.4,320.4 2359.9,320.9 2369.9,320.5 2372.4,320.7 2377.4,320.2 2382.4,320.5 2384.9,321.1 2387.4,320.6 2397.9,320.5 2402.4,320.2 2404.9,321.0 2407.4,320.6 2412.4,320.7 2419.9,320.2 2421.2,320.3" fill="none" stroke="#1466e0" stroke-width="8.30" stroke-linejoin="round" stroke-linecap="butt"/>
</g>
<g id="ticklabels">
<text class="t" font-size="92.50" text-anchor="middle" transform="translate(133.95,1725.80) scale(1.0450,1.0000)">10</text>
<text class="t" font-size="92.50" text-anchor="middle" transform="translate(419.12,1725.80) scale(1.0450,1.0000)">20</text>
<text class="t" font-size="92.50" text-anchor="middle" transform="translate(704.79,1725.80) scale(1.0450,1.0000)">30</text>
<text class="t" font-size="92.50" text-anchor="middle" transform="translate(991.06,1725.80) scale(1.0450,1.0000)">40</text>
<text class="t" font-size="92.50" text-anchor="middle" transform="translate(1276.83,1725.80) scale(1.0450,1.0000)">50</text>
<text class="t" font-size="92.50" text-anchor="middle" transform="translate(1564.09,1725.80) scale(1.0450,1.0000)">60</text>
<text class="t" font-size="92.50" text-anchor="middle" transform="translate(1847.66,1725.80) scale(1.0450,1.0000)">70</text>
<text class="t" font-size="92.50" text-anchor="middle" transform="translate(2135.53,1725.80) scale(1.0450,1.0000)">80</text>
<text class="t" font-size="92.50" text-anchor="middle" transform="translate(2420.80,1725.80) scale(1.0450,1.0000)">90</text>
</g>
<text class="t" font-size="91.00" text-anchor="middle" transform="translate(1254.30,1812.70) scale(1.0560,1.0000)">2-Theta (°)</text>
<text class="t" font-size="90.8" text-anchor="middle" transform="translate(79.6,783.6) scale(1.065,1) rotate(-90)">Intensity (A.U.)</text>
<g id="legend">
<text class="s" font-size="69.24" text-anchor="middle" transform="translate(971.90,109.10) scale(1.0000,0.9912)">♥</text>
<text class="t" font-size="76.50" text-anchor="start" transform="translate(1005.50,108.80) scale(1.0450,1.0000)">-C</text>
<text class="s b" font-size="69.58" text-anchor="middle" transform="translate(1218.60,120.12) scale(1.0000,1.0460)" stroke="#000" stroke-width="2.4" stroke-linejoin="round">*</text>
<text class="t" font-size="76.50" text-anchor="start" transform="translate(1240.00,113.30) scale(1.0450,1.0000)">-TiO<tspan font-size="51.5" dy="19.5">2</tspan></text>
<text class="s" font-size="45.86" text-anchor="middle" transform="translate(1575.10,92.69) scale(1.0000,0.9514)">●</text>
<text class="t" font-size="76.50" text-anchor="start" transform="translate(1595.60,107.00) scale(1.0450,1.0000)">-Ti<tspan font-size="51.5" dy="19.5">2</tspan><tspan dy="-19.5">O</tspan><tspan font-size="51.5" dy="19.5">3</tspan></text>
<text class="k" font-size="59.90" text-anchor="middle" transform="translate(1958.65,102.15) scale(1.0000,0.9062)">♣</text>
<text class="t" font-size="76.50" text-anchor="start" transform="translate(1986.60,105.10) scale(1.0450,1.0000)">-TiC<tspan font-size="51.5" dy="19.5">x</tspan><tspan dy="-19.5">O</tspan><tspan font-size="51.5" dy="19.5">1-x</tspan></text>
</g>
<g id="temps">
<text class="t g" font-size="76.00" text-anchor="start" transform="translate(2132.80,284.50) scale(1.0300,1.0000)">1500°C</text>
<text class="t g" font-size="76.00" text-anchor="start" transform="translate(2136.70,637.50) scale(1.0300,1.0000)">1400°C</text>
<text class="t g" font-size="76.00" text-anchor="start" transform="translate(2145.10,1501.00) scale(1.0300,1.0000)">1300°C</text>
</g>
<g id="markers">
<text class="s" font-size="69.24" text-anchor="middle" transform="translate(616.10,217.00) scale(1.0000,0.9912)">♥</text>
<text class="s" font-size="69.24" text-anchor="middle" transform="translate(611.60,392.40) scale(1.0000,0.9912)">♥</text>
<text class="s" font-size="69.24" text-anchor="middle" transform="translate(1423.40,637.30) scale(1.0000,0.9912)">♥</text>
<text class="s" font-size="69.24" text-anchor="middle" transform="translate(603.90,745.60) scale(1.0000,0.9912)">♥</text>
<text class="s" font-size="69.24" text-anchor="middle" transform="translate(1414.60,1469.20) scale(1.0000,0.9912)">♥</text>
<text class="k" font-size="59.90" text-anchor="middle" transform="translate(875.30,287.15) scale(1.0000,0.9062)">♣</text>
<text class="k" font-size="59.90" text-anchor="middle" transform="translate(1039.30,282.55) scale(1.0000,0.9062)">♣</text>
<text class="k" font-size="59.90" text-anchor="middle" transform="translate(1594.00,294.45) scale(1.0000,0.9062)">♣</text>
<text class="k" font-size="59.90" text-anchor="middle" transform="translate(1925.80,287.15) scale(1.0000,0.9062)">♣</text>
<text class="k" font-size="59.90" text-anchor="middle" transform="translate(2035.00,305.35) scale(1.0000,0.9062)">♣</text>
<text class="k" font-size="59.90" text-anchor="middle" transform="translate(1048.00,651.95) scale(1.0000,0.9062)">♣</text>
<text class="k" font-size="59.90" text-anchor="middle" transform="translate(1592.00,668.75) scale(1.0000,0.9062)">♣</text>
<text class="s" font-size="45.86" text-anchor="middle" transform="translate(522.90,649.69) scale(1.0000,0.9514)">●</text>
<text class="s" font-size="45.86" text-anchor="middle" transform="translate(794.60,650.69) scale(1.0000,0.9514)">●</text>
<text class="s" font-size="45.86" text-anchor="middle" transform="translate(1004.50,670.89) scale(1.0000,0.9514)">●</text>
<text class="s" font-size="45.86" text-anchor="middle" transform="translate(1382.80,667.19) scale(1.0000,0.9514)">●</text>
<text class="s" font-size="45.86" text-anchor="middle" transform="translate(964.90,1490.29) scale(1.0000,0.9514)">●</text>
<text class="s" font-size="45.86" text-anchor="middle" transform="translate(1117.40,1500.09) scale(1.0000,0.9514)">●</text>
<text class="s" font-size="45.86" text-anchor="middle" transform="translate(1392.90,1521.79) scale(1.0000,0.9514)">●</text>
<text class="s" font-size="45.86" text-anchor="middle" transform="translate(1587.70,1510.89) scale(1.0000,0.9514)">●</text>
<text class="s" font-size="45.86" text-anchor="middle" transform="translate(1844.30,1522.59) scale(1.0000,0.9514)">●</text>
<text class="s b" font-size="69.58" text-anchor="middle" transform="translate(637.50,1500.82) scale(1.0000,1.0460)" stroke="#000" stroke-width="2.4" stroke-linejoin="round">*</text>
</g>
</svg>
</body>
</html>
